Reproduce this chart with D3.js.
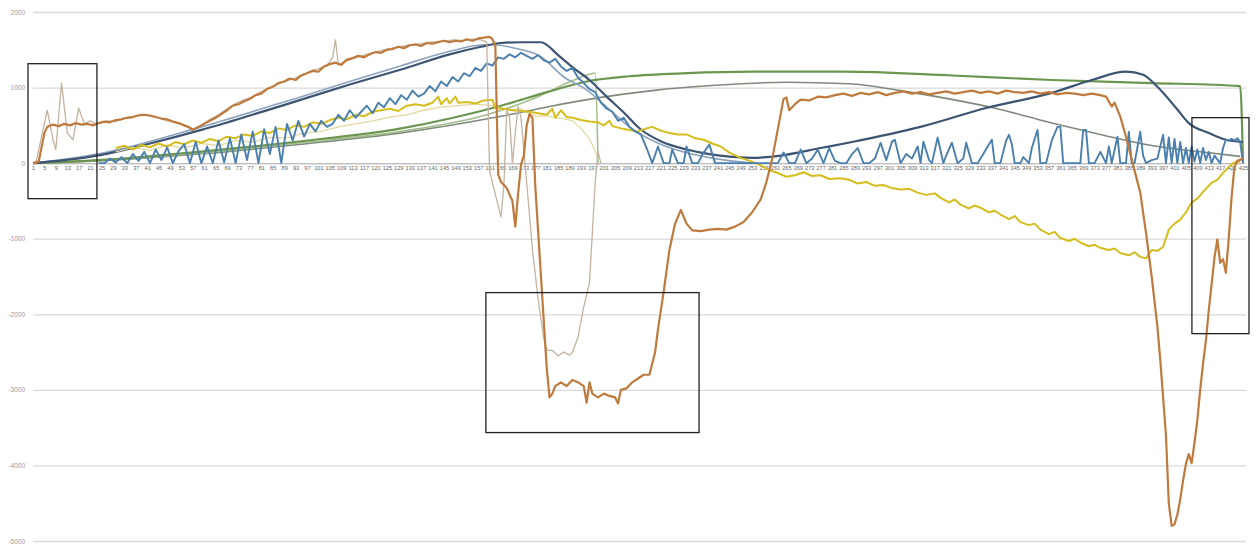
<!DOCTYPE html>
<html>
<head>
<meta charset="utf-8">
<script src="https://cdn.jsdelivr.net/npm/d3@7"></script>
<style>
  body { margin: 0; background: #ffffff; }
  svg { display: block; font-family: "Liberation Sans", Arial, sans-serif; }
</style>
</head>
<body>
<div id="visualize"></div>
<script>
// category positions 1..425, value axis -5000..2000
var xTicks = d3.range(1, 426, 4);
var yTicks = [2000, 1000, 0, -1000, -2000, -3000, -4000, -5000];

// [category, value]
var orange = [[1,0],[3,20],[5,400],[6,480],[8,510],[10,490],[12,520],[14,500],[16,530],[18,510],[20,520],[22,500],[24,530],[26,550],[28,540],[30,570],[32,580],[34,600],[36,610],[38,630],[40,640],[42,630],[44,610],[46,590],[48,580],[50,550],[52,530],[54,500],[56,470],[57,440],[59,480],[61,520],[63,560],[65,600],[67,650],[69,700],[71,760],[73,780],[75,820],[77,850],[79,900],[81,920],[83,980],[85,1010],[87,1060],[89,1080],[91,1120],[93,1100],[95,1160],[97,1190],[99,1220],[101,1210],[103,1280],[105,1310],[107,1330],[109,1300],[111,1370],[113,1390],[115,1420],[117,1400],[119,1440],[121,1470],[123,1460],[125,1500],[127,1510],[129,1540],[131,1520],[133,1560],[135,1570],[137,1550],[139,1590],[141,1580],[143,1600],[145,1620],[147,1600],[149,1620],[151,1610],[153,1640],[155,1620],[157,1650],[159,1660],[161,1670],[162,1640],[163,1550],[164,-150],[165,-250],[167,-330],[169,-500],[170,-840],[171,-400],[172,-20],[173,100],[174,500],[175,650],[176,600],[177,-300],[179,-1500],[181,-2700],[182,-3100],[183,-3050],[184,-2950],[186,-2900],[188,-2950],[190,-2870],[192,-2900],[194,-2950],[195,-3170],[196,-2900],[197,-3050],[199,-3100],[201,-3050],[203,-3080],[205,-3100],[206,-3180],[207,-3000],[209,-2980],[211,-2900],[213,-2850],[215,-2800],[217,-2800],[219,-2500],[220,-2200],[222,-1700],[224,-1150],[226,-800],[228,-620],[230,-800],[232,-890],[235,-900],[238,-880],[241,-870],[244,-880],[247,-840],[250,-780],[253,-650],[256,-480],[258,-250],[260,50],[262,450],[264,850],[265,870],[266,700],[268,780],[270,840],[273,830],[276,880],[279,870],[282,900],[285,920],[288,890],[291,930],[294,910],[297,940],[300,900],[303,930],[306,950],[309,920],[312,940],[315,910],[318,930],[321,950],[324,920],[327,940],[330,960],[333,930],[336,950],[339,920],[342,960],[345,940],[348,930],[351,950],[354,920],[357,940],[360,910],[363,930],[366,920],[369,900],[372,920],[375,900],[377,880],[379,750],[380,800],[382,615],[384,350],[386,50],[389,-390],[391,-920],[393,-1500],[395,-2160],[396,-2600],[398,-3600],[399,-4500],[400,-4800],[401,-4780],[402,-4650],[403,-4450],[404,-4200],[405,-3980],[406,-3850],[407,-3970],[408,-3700],[409,-3400],[410,-3000],[411,-2650],[412,-2350],[413,-1950],[414,-1600],[415,-1250],[416,-1010],[417,-1320],[418,-1270],[419,-1450],[420,-1000],[421,-450],[422,-50],[423,30],[425,60]];

var tan = [[1,0],[2,0],[4,350],[6,700],[8,310],[9,180],[11,1060],[13,400],[15,310],[17,730],[19,520],[21,560],[23,520],[25,540],[27,560],[30,550],[33,600],[36,620],[39,650],[42,620],[45,600],[48,560],[51,540],[54,500],[57,450],[60,500],[63,580],[66,640],[69,720],[72,790],[75,840],[78,880],[81,950],[84,1000],[87,1050],[90,1090],[93,1130],[96,1180],[99,1230],[101,1250],[104,1290],[106,1400],[107,1630],[108,1300],[110,1340],[113,1380],[116,1420],[119,1450],[122,1480],[125,1510],[128,1530],[131,1550],[134,1570],[137,1580],[140,1600],[143,1610],[146,1620],[149,1630],[152,1620],[155,1640],[158,1630],[160,1600],[161,-100],[162,-260],[165,-710],[166,-300],[167,700],[168,600],[169,0],[170,400],[171,750],[172,600],[174,-260],[176,-1140],[178,-1800],[180,-2320],[181,-2470],[183,-2480],[185,-2550],[187,-2500],[189,-2540],[190,-2510],[192,-2300],[194,-1900],[196,-1580],[197,-920],[198,-260],[199,150],[200,0]];

var navy = [[1,0],[12,40],[25,110],[42,260],[60,440],[77,630],[95,840],[112,1040],[130,1240],[147,1440],[158,1540],[165,1590],[172,1600],[179,1600],[185,1430],[190,1270],[196,1100],[202,880],[208,670],[214,445],[221,290],[230,180],[238,120],[245,85],[253,70],[263,100],[277,200],[288,280],[312,480],[335,730],[358,930],[372,1100],[384,1210],[390,1170],[395,1010],[402,710],[406,530],[413,400],[419,310],[425,280]];

var steel = [[1,0],[25,130],[60,480],[95,880],[130,1290],[147,1480],[157,1560],[162,1570],[170,1520],[179,1410],[187,1140],[195,970],[203,710],[210,480],[218,300],[226,180],[240,60],[253,0]];

var blue = [[24,0],[26,0],[28,60],[30,10],[32,80],[34,0],[36,120],[38,30],[40,150],[42,0],[44,180],[46,40],[48,210],[50,0],[52,160],[54,250],[56,0],[58,280],[60,0],[62,220],[64,0],[66,300],[68,10],[70,330],[72,0],[74,380],[76,40],[78,420],[80,0],[82,450],[84,120],[86,480],[88,0],[90,520],[92,300],[94,560],[96,350],[98,520],[100,420],[102,560],[104,480],[106,520],[108,640],[110,560],[112,700],[114,600],[116,680],[118,760],[120,660],[122,800],[124,740],[126,860],[128,780],[130,900],[132,840],[134,960],[136,880],[138,920],[140,1020],[142,950],[144,1080],[146,1020],[148,1140],[150,1080],[152,1190],[154,1150],[156,1260],[158,1220],[160,1320],[162,1290],[164,1400],[166,1380],[168,1440],[170,1400],[172,1460],[174,1420],[176,1380],[178,1430],[180,1360],[182,1330],[184,1380],[186,1280],[188,1220],[190,1260],[192,1130],[194,1060],[196,980],[198,940],[200,800],[202,720],[204,680],[206,560],[208,600],[210,480],[212,420],[214,380],[216,200],[218,0],[220,220],[222,0],[224,0],[225,180],[227,0],[229,0],[230,220],[232,0],[234,0],[236,140],[238,245],[240,0],[262,0],[264,140],[266,0],[268,0],[270,180],[272,0],[274,60],[276,180],[278,0],[280,200],[282,30],[284,0],[286,0],[288,120],[290,200],[292,0],[294,0],[296,60],[298,270],[300,40],[302,285],[303,310],[305,0],[307,120],[309,60],[311,220],[312,0],[313,285],[315,40],[316,0],[318,340],[320,0],[321,100],[323,270],[325,0],[327,60],[328,270],[330,0],[332,0],[334,120],[336,250],[337,310],[338,0],[340,0],[342,300],[343,375],[344,250],[345,0],[347,0],[348,80],[350,0],[351,200],[353,440],[354,0],[356,0],[358,300],[360,480],[361,480],[362,0],[368,0],[369,440],[370,440],[371,0],[373,0],[375,150],[377,0],[378,220],[379,0],[381,350],[382,0],[384,0],[385,415],[386,0],[387,0],[389,415],[390,100],[391,0],[393,40],[395,60],[397,375],[398,0],[399,340],[400,0],[401,320],[402,0],[403,280],[404,0],[405,200],[406,0],[407,220],[408,20],[409,180],[410,0],[411,200],[412,40],[413,150],[414,0],[415,100],[417,0],[418,200],[419,310],[420,300],[421,320],[422,300],[423,330],[424,285],[425,0]];

var yellow = [[30,200],[33,230],[36,180],[39,240],[42,210],[45,260],[48,220],[51,280],[54,250],[57,300],[60,270],[63,320],[66,290],[69,350],[72,330],[75,380],[78,360],[81,420],[84,400],[87,460],[90,440],[93,500],[96,480],[99,540],[102,520],[105,570],[108,600],[111,580],[114,640],[117,620],[120,680],[123,700],[126,720],[129,690],[132,760],[135,780],[138,760],[141,800],[143,880],[144,780],[146,860],[147,790],[149,880],[150,800],[153,810],[156,790],[159,830],[162,840],[163,730],[166,720],[169,700],[172,690],[175,680],[178,660],[181,640],[183,720],[184,600],[186,700],[188,610],[190,600],[193,570],[196,550],[199,540],[201,500],[203,560],[204,490],[207,460],[210,440],[213,420],[216,460],[218,480],[221,430],[224,400],[227,380],[230,380],[233,330],[236,310],[239,260],[242,220],[245,140],[249,70],[253,20],[256,-30],[259,-90],[262,-130],[265,-180],[268,-160],[271,-120],[274,-170],[277,-160],[280,-210],[284,-200],[287,-220],[290,-270],[293,-250],[296,-300],[299,-290],[302,-330],[305,-350],[308,-340],[311,-390],[314,-420],[317,-400],[319,-460],[322,-520],[324,-480],[326,-550],[329,-600],[331,-560],[333,-590],[336,-650],[338,-630],[340,-680],[343,-740],[345,-700],[347,-780],[350,-820],[352,-800],[354,-880],[357,-940],[359,-910],[361,-990],[364,-1030],[366,-1000],[368,-1050],[371,-1100],[373,-1080],[375,-1120],[378,-1150],[380,-1130],[382,-1190],[385,-1220],[387,-1180],[389,-1240],[391,-1260],[393,-1150],[395,-1160],[397,-1110],[399,-880],[401,-800],[403,-750],[405,-650],[407,-520],[409,-470],[411,-380],[414,-260],[416,-220],[418,-130],[420,-50],[422,10],[424,20]];

var paleYellow = [[30,150],[36,210],[42,170],[48,240],[54,200],[60,260],[66,230],[72,300],[78,280],[84,340],[90,330],[96,400],[102,420],[108,480],[114,520],[120,560],[126,610],[132,640],[138,700],[144,740],[150,760],[156,780],[162,760],[168,700],[172,720],[175,650],[178,620],[181,630],[184,600],[187,590],[190,560],[193,460],[196,320],[198,160],[199,40]];

var green = [[1,0],[24,40],[59,150],[95,290],[130,460],[165,760],[182,950],[195,1080],[210,1150],[230,1190],[253,1210],[285,1210],[323,1160],[358,1100],[393,1060],[424,1020],[425,0]];

var grayGreen = [[1,0],[24,30],[59,120],[95,250],[130,400],[165,620],[182,750],[200,870],[218,960],[240,1030],[265,1070],[287,1050],[305,960],[322,850],[340,710],[357,540],[375,380],[392,240],[410,150],[424,90]];

var paleGreen = [[1,0],[24,35],[59,130],[95,270],[130,420],[160,640],[178,880],[190,1090],[198,1190],[199,0]];

// annotation boxes: [catFrom, catTo, valueTop, valueBottom]
var boxes = [[-0.75, 23.4, 1316, -470], [159.7, 234.4, -1713, -3565], [407.1, 427.1, 602, -2256]];

var width = 1256, height = 544;

var x = d3.scaleLinear().domain([1, 425]).range([33, 1243]);
var y = d3.scaleLinear().domain([-5000, 2000]).range([541, 12]);

var svg = d3.select("#visualize")
    .append("svg")
    .attr("width", width)
    .attr("height", height);

// gridlines + value labels
var yAxis = svg.append("g")
    .attr("transform", "translate(33,0)")
    .call(d3.axisLeft(y).tickValues(yTicks).tickSize(-1213).tickPadding(8)
        .tickFormat(function (d) { return String(d); }));
yAxis.select(".domain").remove();
yAxis.selectAll("line").attr("stroke", "#d9d9d9").attr("stroke-width", 1.3);
yAxis.selectAll("text").attr("fill", "#9a9a9a").attr("font-size", "6.5px");

// category axis on the zero line
var xAxis = svg.append("g")
    .attr("transform", "translate(0," + y(0) + ")")
    .call(d3.axisBottom(x).tickValues(xTicks).tickSize(0).tickSizeOuter(0).tickPadding(3)
        .tickFormat(function (d) { return String(d); }));
xAxis.select(".domain").attr("stroke", "#bdbdbd").attr("stroke-width", 1.3);
xAxis.selectAll("text").attr("fill", "#666666").attr("font-size", "5.6px");

var series = [
    { data: grayGreen, color: "#7e8a7c", width: 1.6, smooth: true },
    { data: paleGreen, color: "#a3bd8c", width: 1.6, smooth: true },
    { data: green, color: "#6b9650", width: 2.2, smooth: true },
    { data: steel, color: "#8ba2be", width: 1.6, smooth: true },
    { data: navy, color: "#3e5473", width: 2.2, smooth: true },
    { data: paleYellow, color: "#e2d9a2", width: 1.3, smooth: false },
    { data: yellow, color: "#d6bd1e", width: 2, smooth: false },
    { data: blue, color: "#4a7fae", width: 1.9, smooth: false },
    { data: tan, color: "#c3b3a0", width: 1.3, smooth: false },
    { data: orange, color: "#bf7a3e", width: 2.2, smooth: false }
];

series.forEach(function (s) {
    var line = d3.line()
        .x(function (d) { return x(d[0]); })
        .y(function (d) { return y(d[1]); })
        .curve(s.smooth ? d3.curveMonotoneX : d3.curveLinear);
    svg.append("path")
        .datum(s.data)
        .attr("fill", "none")
        .attr("stroke", s.color)
        .attr("stroke-width", s.width)
        .attr("stroke-linejoin", "round")
        .attr("d", line);
});

svg.selectAll("rect.box")
    .data(boxes)
    .enter()
    .append("rect")
    .attr("class", "box")
    .attr("x", function (d) { return x(d[0]); })
    .attr("y", function (d) { return y(d[2]); })
    .attr("width", function (d) { return x(d[1]) - x(d[0]); })
    .attr("height", function (d) { return y(d[3]) - y(d[2]); })
    .attr("fill", "none")
    .attr("stroke", "#222222")
    .attr("stroke-width", 1.3);
</script>
</body>
</html>
